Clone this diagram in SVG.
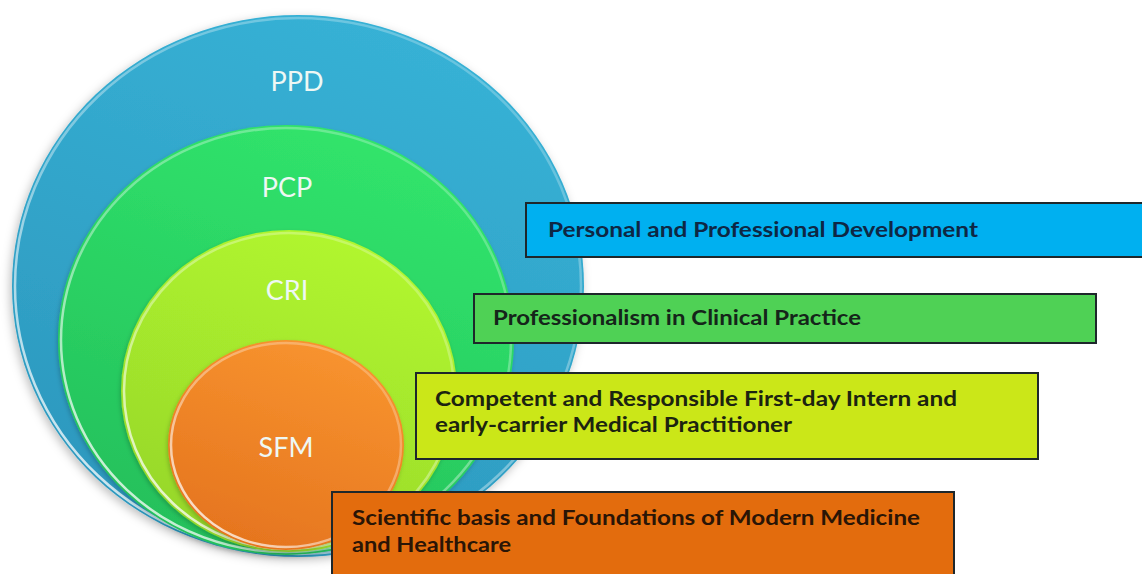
<svg xmlns="http://www.w3.org/2000/svg" width="1142" height="574" viewBox="0 0 1142 574">
  <defs>
    <linearGradient id="gPPD" x1="0.7" y1="0" x2="0.3" y2="1">
      <stop offset="0" stop-color="#37B2D6"/>
      <stop offset="1" stop-color="#2C97BD"/>
    </linearGradient>
    <linearGradient id="gPCP" x1="0.7" y1="0" x2="0.3" y2="1">
      <stop offset="0" stop-color="#31E56C"/>
      <stop offset="1" stop-color="#24BF5B"/>
    </linearGradient>
    <linearGradient id="gCRI" x1="0.7" y1="0" x2="0.3" y2="1">
      <stop offset="0" stop-color="#B2F72E"/>
      <stop offset="1" stop-color="#96D62B"/>
    </linearGradient>
    <linearGradient id="gSFM" x1="0.7" y1="0" x2="0.3" y2="1">
      <stop offset="0" stop-color="#F8942F"/>
      <stop offset="1" stop-color="#E5741E"/>
    </linearGradient>
    <linearGradient id="rim" x1="1" y1="0" x2="0" y2="1">
      <stop offset="0" stop-color="#FFFFFF" stop-opacity="0.2"/>
      <stop offset="0.6" stop-color="#FFFFFF" stop-opacity="0.4"/>
      <stop offset="1" stop-color="#FFFFFF" stop-opacity="0.95"/>
    </linearGradient>
    <filter id="shadow" x="-10%" y="-10%" width="120%" height="120%">
      <feDropShadow dx="-2" dy="3" stdDeviation="5" flood-color="#000" flood-opacity="0.25"/>
    </filter>
    <filter id="shadowIn" x="-10%" y="-10%" width="120%" height="120%">
      <feDropShadow dx="-1" dy="2" stdDeviation="2" flood-color="#000" flood-opacity="0.2"/>
    </filter>
  </defs>
  <style>
    .lbl { font-family: Lato, "Open Sans", "Liberation Sans", sans-serif; font-size: 27px; fill: #EEF8F4; text-anchor: middle; }
    .rimline { fill: none; stroke: url(#rim); stroke-width: 2.5; }
    .box { stroke: #1E272B; stroke-width: 2; }
    .btxt { font-family: Lato, "Liberation Sans", sans-serif; font-size: 21px; font-weight: bold; }
  </style>
  <rect width="1142" height="574" fill="#FFFFFF"/>

  <g id="node-ppd">
    <ellipse cx="298" cy="286" rx="286" ry="271" fill="url(#gPPD)" filter="url(#shadow)"/>
    <ellipse class="rimline" cx="298" cy="286" rx="283" ry="268"/>
    <text class="lbl" x="297" y="91">PPD</text>
  </g>
  <g id="node-pcp">
    <ellipse cx="286" cy="340" rx="228" ry="215" fill="url(#gPCP)" filter="url(#shadowIn)"/>
    <ellipse class="rimline" cx="286" cy="340" rx="225" ry="212"/>
    <text class="lbl" x="287" y="197">PCP</text>
  </g>
  <g id="node-cri">
    <ellipse cx="289" cy="391" rx="168" ry="161" fill="url(#gCRI)" filter="url(#shadowIn)"/>
    <ellipse class="rimline" cx="289" cy="391" rx="165" ry="158"/>
    <text class="lbl" x="287" y="300">CRI</text>
  </g>
  <g id="node-sfm">
    <ellipse cx="286" cy="445" rx="118" ry="105" fill="url(#gSFM)" filter="url(#shadowIn)"/>
    <ellipse class="rimline" cx="286" cy="445" rx="115" ry="102"/>
    <text class="lbl" x="286" y="457">SFM</text>
  </g>

  <g id="connectors"/>

  <g id="box-ppd">
    <rect class="box" x="526" y="203" width="624" height="54" fill="#00B0F0"/>
    <text class="btxt" x="548" y="237" fill="#0E2744" textLength="430" lengthAdjust="spacingAndGlyphs">Personal and Professional Development</text>
  </g>
  <g id="box-pcp">
    <rect class="box" x="474" y="294" width="622" height="49" fill="#4FD155"/>
    <text class="btxt" x="493" y="325" fill="#15251A" textLength="368" lengthAdjust="spacingAndGlyphs">Professionalism in Clinical Practice</text>
  </g>
  <g id="box-cri">
    <rect class="box" x="416" y="373" width="622" height="86" fill="#CBE718"/>
    <text class="btxt" x="435" y="406" fill="#1C2410" textLength="522" lengthAdjust="spacingAndGlyphs">Competent and Responsible First-day Intern and</text>
    <text class="btxt" x="435" y="432" fill="#1C2410" textLength="357" lengthAdjust="spacingAndGlyphs">early-carrier Medical Practitioner</text>
  </g>
  <g id="box-sfm">
    <rect class="box" x="332" y="492" width="622" height="90" fill="#E36C0D"/>
    <text class="btxt" x="352" y="525" fill="#2A1506" textLength="568" lengthAdjust="spacingAndGlyphs">Scientific basis and Foundations of Modern Medicine</text>
    <text class="btxt" x="352" y="552" fill="#2A1506" textLength="159" lengthAdjust="spacingAndGlyphs">and Healthcare</text>
  </g>
</svg>
